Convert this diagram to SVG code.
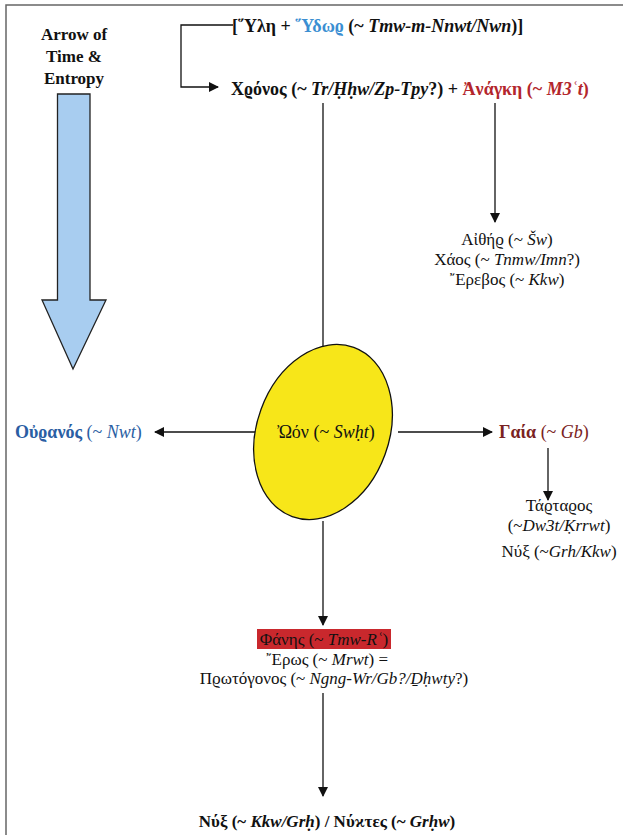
<svg xmlns="http://www.w3.org/2000/svg" width="623" height="835" viewBox="0 0 623 835">
<style>
text{font-family:'Liberation Serif','Times New Roman','DejaVu Serif',serif;font-size:17px;fill:#111}
.b{font-weight:bold}
.c{text-anchor:middle}
.big{font-size:18px}
.blue{fill:#2a5ea3}
.red{fill:#b3262c}
.lblue{fill:#3b8fd2}
.dred{fill:#7a2222}
.ln{stroke:#111;stroke-width:1.3;fill:none}
</style>
<defs>
<marker id="ah" viewBox="0 0 10 10" refX="9" refY="5" markerWidth="11" markerHeight="10" markerUnits="userSpaceOnUse" orient="auto">
<path d="M0,0 L10,5 L0,10 Z" fill="#111"/>
</marker>
</defs>
<rect width="623" height="835" fill="#fff"/>
<path d="M6,835 V5 H623" fill="none" stroke="#666" stroke-width="1.5"/>

<g id="connectors">
<path class="ln" d="M233,25 H181 V87 H218" marker-end="url(#ah)"/>
<path class="ln" d="M323,103 V357" marker-end="url(#ah)"/>
<path class="ln" d="M495,103 V222" marker-end="url(#ah)"/>
<path class="ln" d="M262,432 H155" marker-end="url(#ah)"/>
<path class="ln" d="M398,432 H492" marker-end="url(#ah)"/>
<path class="ln" d="M548,448 V500" marker-end="url(#ah)"/>
<path class="ln" d="M323,521 V625" marker-end="url(#ah)"/>
<path class="ln" d="M323,693 V796" marker-end="url(#ah)"/>
</g>

<g id="arrow-of-time">
<text class="b c" x="74" y="40">Arrow of</text>
<text class="b c" x="74" y="62">Time &amp;</text>
<text class="b c" x="74" y="84">Entropy</text>
<path d="M57.5,94 H90 V300 H106 L73,369 L42,300 H57.5 Z" fill="#a8cdf0" stroke="#222" stroke-width="1.3"/>
</g>

<g id="hyle">
<text class="b big" x="232" y="32">[῞Υλη + <tspan class="lblue">῞Υδωϱ</tspan> (~ <tspan font-style="italic">Tmw-m-Nnwt/Nwn</tspan>)]</text>
</g>

<g id="chronos">
<text class="b big" x="231" y="95">Χϱόνος (~ <tspan font-style="italic">Tr/Ḥḥw/Zp-Tpy</tspan>?) + <tspan class="red">Ἀνάγκη (~ <tspan font-style="italic">M3ʿt</tspan>)</tspan></text>
</g>

<g id="aither">
<text class="c" x="507" y="245">Αἰθήϱ (~ <tspan font-style="italic">Šw</tspan>)</text>
<text class="c" x="507" y="265">Χάος (~ <tspan font-style="italic">Tnmw/Imn</tspan>?)</text>
<text class="c" x="507" y="285">῎Ερεβος (~ <tspan font-style="italic">Kkw</tspan>)</text>
</g>

<g id="oon">
<ellipse cx="323" cy="432" rx="66" ry="90" transform="rotate(20 323 432)" fill="#f7e619" stroke="#111" stroke-width="1.3"/>
<text class="c big" x="326" y="438">Ὠόν (~ <tspan font-style="italic">Swḥt</tspan>)</text>
</g>

<g id="ouranos">
<text class="b blue big" x="15" y="438">Οὐϱανός <tspan font-weight="normal">(~ <tspan font-style="italic">Nwt</tspan>)</tspan></text>
</g>

<g id="gaia">
<text class="b dred big" x="499" y="438">Γαία <tspan font-weight="normal">(~ <tspan font-style="italic">Gb</tspan>)</tspan></text>
</g>

<g id="tartaros">
<text class="c" x="559" y="511">Τάϱταϱος</text>
<text class="c" x="559" y="531">(~<tspan font-style="italic">Dw3t/Ḳrrwt</tspan>)</text>
<text class="c" x="559" y="557">Νύξ (~<tspan font-style="italic">Grh/Kkw</tspan>)</text>
</g>

<g id="phanes">
<rect x="257" y="629" width="134" height="20" fill="#c9282d"/>
<text class="c" x="324" y="645" fill="#f2e232">Φάνης (~ <tspan font-style="italic">Tmw-Rʿ</tspan>)</text>
<text class="c" x="327" y="665">῎Ερως (~ <tspan font-style="italic">Mrwt</tspan>) =</text>
<text class="c" x="334" y="684">Πϱωτόγονος (~ <tspan font-style="italic">Ngng-Wr/Gb?/Ḏḥwty</tspan>?)</text>
</g>

<g id="nyx">
<text class="b c" x="327" y="827">Νύξ (~ <tspan font-style="italic">Kkw/Grḥ</tspan>) / Νύϰτες (~ <tspan font-style="italic">Grḥw</tspan>)</text>
</g>
</svg>
